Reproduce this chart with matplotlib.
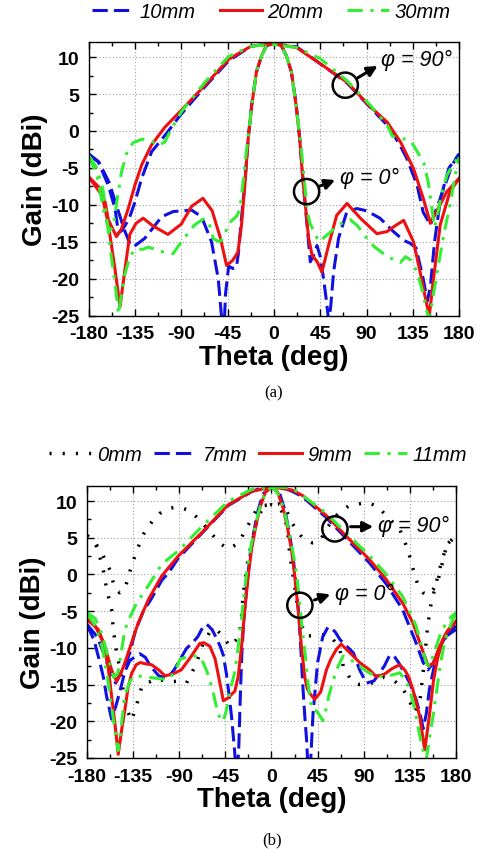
import matplotlib
matplotlib.use("Agg")
import matplotlib.pyplot as plt
from matplotlib.ticker import MultipleLocator, FixedLocator
from matplotlib.lines import Line2D

plt.rcParams['font.family'] = ['Liberation Sans', 'DejaVu Sans']
plt.rcParams['axes.unicode_minus'] = False

# ---------------- (a) data ----------------
a_series = ["10mm", "20mm", "30mm"]

# 10mm, phi = 90
a10_p90_t = [-180, -170.6, -161, -154.4, -151, -148, -141, -135, -128.5, -118.8, -105.9, -90, -67, -44, -22, 0, 22, 45, 71, 93.5, 110, 122, 129, 139, 145, 152, 158, 165, 173, 180]
a10_p90_g = [-3.1, -4.2, -7.3, -10.5, -13.8, -13.5, -12.0, -9.6, -6.4, -2.8, -0.6, 2.3, 6.0, 9.5, 11.5, 11.8, 11.4, 9.1, 6.5, 3.2, 0.8, -1.8, -3.7, -7.3, -11.0, -12.7, -10.5, -7.8, -4.6, -3.1]
# 10mm, phi = 0
a10_p0_t = [-180, -170, -160, -152, -145, -140, -136.6, -125.3, -109, -97.8, -80, -70.3, -60.6, -54.1, -51, -49.5, -47, -44, -40, -36.5, -34.5, -31.5, -28.2, -25, -21.7, -16.9, -12, -7.1, 0, 7.1, 12, 16.9, 21.7, 25, 28.2, 30.4, 33, 35.3, 38, 41.8, 45, 48.2, 51, 53, 55, 58, 62.8, 70.9, 80.6, 90, 103, 116, 126, 132.4, 138, 145, 149, 152, 156, 162, 170, 180]
a10_p0_g = [-3.1, -4.2, -7.0, -10.5, -13.5, -15.2, -15.7, -14.5, -11.6, -10.9, -10.7, -11.6, -15.0, -20.0, -25.0, -30.0, -22.0, -18.3, -18.6, -18.5, -16.5, -11.8, -6.9, -1.0, 3.5, 8.0, 10.2, 11.6, 11.8, 11.6, 10.2, 8.0, 3.5, -1.0, -6.5, -10.0, -14.0, -17.7, -17.0, -15.5, -17.0, -20.0, -23.0, -25.5, -24.0, -19.0, -14.5, -10.9, -10.5, -10.8, -11.8, -13.6, -14.8, -15.2, -15.8, -20.0, -23.0, -21.0, -15.0, -9.0, -5.0, -3.1]

# 20mm, phi = 90
a20_p90_t = [-180, -170, -164, -160.9, -153, -148, -141.5, -135, -128.5, -119, -106, -90, -67, -44, -22, 0, 22, 45, 71, 93.5, 110, 123, 135.6, 145, 152, 158, 168, 180]
a20_p90_g = [-6.2, -7.6, -9.6, -12.0, -14.3, -13.2, -10.5, -7.3, -4.6, -1.9, 0.5, 2.8, 6.2, 9.7, 11.5, 11.8, 11.3, 9.1, 6.6, 3.3, 1.2, -1.5, -5.1, -9.1, -12.5, -10.9, -8.2, -6.4]
# 20mm, phi = 0
a20_p0_t = [-180, -167, -161, -154.5, -149.5, -145, -140, -134, -127, -118, -103, -90, -80, -69, -60, -52, -46, -40, -35, -31.5, -28, -25, -21.5, -17, -12, -7, 0, 7, 12, 17, 21.5, 25, 28, 30.5, 33.7, 37, 42, 46.6, 53, 61, 71, 84, 100, 110, 118, 126, 135.6, 142, 148.6, 151, 155, 161.5, 171, 180]
a20_p0_g = [-6.2, -8.7, -12.5, -18.6, -23.8, -19.0, -14.0, -12.5, -11.8, -12.8, -14.0, -12.6, -10.2, -9.1, -10.8, -14.5, -18.2, -17.5, -16.4, -12.7, -6.9, -1.0, 3.5, 8.0, 10.2, 11.6, 11.8, 11.6, 10.2, 8.0, 3.5, -1.0, -6.5, -10.0, -14.5, -16.8, -17.7, -19.1, -15.5, -11.4, -9.8, -11.8, -13.9, -13.6, -12.8, -12.1, -15.0, -19.1, -23.6, -24.9, -20.0, -12.7, -8.2, -6.4]

# 30mm, phi = 90
a30_p90_t = [-180, -172, -165, -160, -156, -152, -148, -143, -137, -128, -120, -112, -106, -100, -90, -67, -44, -22, 0, 22, 45, 71, 93.5, 110, 115, 122, 128, 133, 138, 145.5, 150, 153, 156, 158, 162, 168, 175, 180]
a30_p90_g = [-3.3, -6.0, -11.0, -13.5, -13.0, -9.0, -5.5, -3.0, -1.6, -1.1, -1.3, -1.9, -1.5, 0.2, 2.6, 6.6, 10.1, 11.5, 11.7, 11.3, 9.8, 6.8, 3.5, 0.8, -0.7, -1.0, -1.1, -1.4, -2.5, -4.3, -7.0, -10.0, -13.0, -12.0, -9.0, -6.0, -4.3, -3.5]
# 30mm, phi = 0
a30_p0_t = [-180, -172, -166, -162, -158, -154, -151, -148, -145, -140, -135, -127, -122, -110, -98, -90, -77, -68.5, -63, -58.7, -53, -49, -44, -40, -36, -33, -30, -27, -24, -21.5, -17, -12, -7, 0, 7, 12, 17, 21.5, 24, 27, 30.4, 32, 35, 38.5, 42, 45, 48, 54.7, 60, 68, 74, 81, 90, 97, 110, 122.7, 128, 133, 137, 141, 145, 148.6, 151, 155, 160, 165, 171, 176, 180]
a30_p0_g = [-3.3, -5.0, -8.0, -12.3, -17.0, -21.0, -24.8, -22.0, -19.5, -17.0, -16.0, -16.0, -15.7, -16.3, -16.6, -15.0, -12.7, -11.9, -12.5, -14.6, -15.0, -14.5, -12.5, -12.0, -11.5, -10.5, -7.0, -3.0, 0.5, 3.5, 8.0, 10.2, 11.5, 11.7, 11.5, 10.2, 8.0, 3.5, 0.5, -3.0, -8.0, -10.5, -12.5, -13.5, -14.5, -15.0, -14.5, -13.7, -13.0, -12.3, -12.0, -12.8, -14.5, -15.6, -17.0, -17.8, -17.0, -17.5, -18.5, -20.0, -22.0, -24.5, -25.5, -22.0, -18.0, -14.0, -10.0, -6.0, -3.5]

# ---------------- (b) data ----------------
b_series = ["0mm", "7mm", "9mm", "11mm"]

# 0mm, phi = 90
b0_p90_t = [-180, -172, -165.7, -157.6, -152.7, -148, -143, -138, -131.6, -124, -116, -109, -100, -91, -82, -73, -65, -57, -50, -42.6, -35, -29, -24.7, -15, -7, 0, 8, 15, 20, 30, 40, 47, 55, 65, 76, 94, 104, 112, 125, 133, 138, 143, 148, 153, 158, 163, 167, 171, 180]
b0_p90_g = [5.3, 4.3, 3.0, 0.6, -2.0, -2.5, -2.0, 0.5, 3.2, 5.7, 7.3, 8.3, 9.0, 9.2, 8.8, 7.8, 6.6, 5.3, 4.2, 3.5, 4.0, 5.1, 6.2, 8.7, 9.4, 9.5, 9.6, 8.6, 7.0, 5.0, 4.3, 4.5, 6.5, 8.3, 9.4, 9.8, 9.2, 8.0, 6.2, 3.4, 0.8, -1.5, -2.5, -2.8, -2.0, -0.5, 1.7, 4.0, 5.3]
# 0mm, phi = 0
b0_p0_t = [-180, -172, -169, -164, -160.8, -156, -154.3, -152, -147, -143, -136.5, -130.6, -126, -120, -110, -102, -90, -83, -78, -73, -67, -60, -53.6, -47, -40.6, -35, -31, -29.2, -27.6, -22.7, -17.9, -13, -7, 0, 7, 13, 16, 18, 21, 24, 28, 34, 44, 53.6, 60, 66.7, 70, 78, 86, 95, 109, 120, 128, 133, 140, 145, 149, 152, 155, 160, 167, 172, 180]
b0_p0_g = [5.3, 4.2, 3.2, 0.5, -2.0, -4.8, -7.4, -9.9, -13.5, -17.7, -19.9, -17.3, -15.0, -14.7, -14.2, -14.7, -14.5, -14.8, -13.5, -12.0, -9.5, -7.8, -7.5, -8.5, -9.8, -9.0, -8.0, -5.7, -2.7, 2.3, 5.0, 8.0, 9.2, 9.5, 9.2, 8.0, 5.5, 2.5, 0.0, -3.0, -6.5, -8.4, -8.3, -8.2, -8.8, -10.2, -12.5, -14.5, -15.0, -15.0, -14.0, -14.5, -15.5, -16.8, -18.8, -17.0, -12.0, -7.5, -4.5, -1.5, 2.3, 4.2, 5.3]

# 7mm, phi = 90
b7_p90_t = [-180, -170, -163, -157, -152, -148, -143, -138, -133, -125, -118, -107, -100, -91, -68, -42, -19, -8, 0, 8, 19, 30, 53, 73, 96, 112, 128, 141, 148, 152.7, 158, 164, 170, 180]
b7_p90_g = [-6.8, -8.5, -11.0, -13.5, -14.8, -13.6, -12.5, -10.6, -7.8, -5.0, -3.5, -0.8, 0.3, 2.2, 5.6, 9.4, 11.3, 11.9, 11.9, 11.9, 11.4, 10.6, 7.8, 4.9, 1.5, -1.3, -4.8, -9.3, -12.0, -13.0, -12.0, -10.0, -8.4, -7.0]
# 7mm, phi = 0
b7_p0_t = [-180, -173, -167.4, -164, -161, -156, -152, -148, -143, -138, -133, -128.4, -123, -118, -110, -102, -95, -88, -83, -77, -72, -67, -63, -58, -54, -50, -47, -44, -42, -39, -36, -34, -32, -30.5, -29, -27, -24, -21, -17, -13, -8, 0, 8, 13, 17, 21, 24, 27, 29, 30.5, 32.5, 34.5, 36, 38, 40.5, 45, 50, 55, 58, 62, 67, 75, 80, 86, 92.6, 100, 105, 110, 115, 119, 124, 130, 135, 141, 145, 148, 151, 154, 161, 170.6, 180]
b7_p0_g = [-6.8, -9.0, -12.0, -14.0, -16.5, -19.7, -18.0, -16.0, -13.2, -11.7, -11.2, -10.8, -11.3, -12.5, -13.8, -14.2, -13.0, -11.3, -10.1, -9.3, -8.5, -7.2, -6.8, -7.5, -8.6, -9.8, -11.0, -13.5, -15.7, -19.3, -24.0, -28.0, -24.0, -17.0, -11.0, -6.0, -1.5, 2.5, 6.0, 8.8, 11.0, 11.9, 11.0, 8.8, 6.0, 2.5, -1.5, -6.0, -11.0, -15.0, -19.3, -23.0, -28.0, -26.0, -19.0, -12.0, -8.5, -7.2, -7.3, -7.8, -8.9, -10.0, -10.7, -13.0, -14.8, -14.5, -13.5, -12.5, -11.1, -11.0, -12.0, -13.5, -14.8, -17.0, -19.0, -21.0, -19.0, -15.7, -11.0, -8.4, -7.5]

# 9mm, phi = 90
b9_p90_t = [-180, -169, -162.5, -156, -151, -147, -143, -136.5, -130, -120, -107, -91, -68, -42, -19.5, 0, 20, 30.9, 53.6, 73, 95.8, 112, 128, 138, 146, 152.7, 157.6, 164, 170.6, 180]
b9_p90_g = [-6.1, -7.5, -9.8, -13.0, -14.6, -13.5, -12.0, -9.3, -6.6, -3.4, -0.2, 2.5, 5.7, 9.5, 11.3, 11.9, 11.5, 10.7, 8.0, 5.2, 2.0, -0.7, -3.9, -6.6, -9.8, -12.4, -12.2, -9.8, -8.0, -6.4]
# 9mm, phi = 0
b9_p0_t = [-180, -172, -164, -159, -156, -153, -149.5, -146, -143, -140, -136.5, -132, -128, -122, -117, -110, -104, -97, -88, -78, -70, -66, -60, -55, -50, -47, -42, -38, -35.7, -32.5, -29.2, -26, -22.7, -19.5, -15, -11, -6, 0, 6, 11, 15, 19.5, 22.7, 26, 29.2, 32.5, 35, 38, 42.2, 48, 53.6, 58, 63.4, 68, 79.6, 86, 95.8, 102, 110, 118, 125, 130, 134, 138, 144.6, 149.5, 154, 158, 162, 167, 172, 180]
b9_p0_g = [-6.1, -7.0, -9.3, -13.0, -16.6, -20.0, -24.5, -21.0, -18.4, -15.5, -13.5, -12.3, -12.0, -12.2, -12.3, -13.0, -13.8, -13.6, -13.0, -11.1, -9.4, -9.3, -9.8, -11.5, -15.0, -17.2, -16.8, -16.2, -15.9, -13.9, -9.8, -4.8, -0.2, 3.4, 6.8, 9.2, 11.2, 11.9, 11.2, 9.2, 6.8, 3.4, -0.2, -4.8, -9.8, -14.0, -15.6, -16.3, -17.0, -16.0, -13.0, -11.5, -10.2, -9.5, -11.1, -12.0, -13.0, -13.9, -13.6, -12.8, -12.3, -13.0, -14.0, -15.7, -19.3, -23.9, -19.3, -14.5, -11.5, -8.9, -7.6, -6.4]

# 11mm, phi = 90
b11_p90_t = [-180, -172, -165, -159, -154, -150, -147, -143, -138, -133, -125, -120, -107, -91, -68, -42, -19, 0, 20, 53, 73, 96, 112, 128, 141, 151, 154, 158, 165, 172, 180]
b11_p90_g = [-5.2, -6.0, -8.3, -11.5, -14.0, -13.5, -11.0, -7.5, -5.8, -4.3, -2.5, -1.5, 1.4, 3.2, 6.5, 10.0, 11.6, 11.9, 11.8, 8.4, 5.6, 2.5, 0.0, -3.0, -7.0, -12.0, -12.5, -11.0, -8.0, -6.2, -5.2]
# 11mm, phi = 0
b11_p0_t = [-180, -172, -165, -160, -156, -152, -149.6, -146, -143, -138, -133, -125, -115, -102, -95, -89, -80, -73, -68, -63, -57, -53, -50, -47, -44, -40, -36, -33, -30, -27, -24, -20, -15, -10, -5, 0, 5, 10, 15, 20, 24, 27, 30, 33, 35, 37.5, 40, 44, 47, 50, 53, 56, 60, 65, 70, 76, 86, 94, 102, 112, 120, 125, 130, 134.8, 138, 141, 144, 147.8, 151, 154, 157.6, 161, 164, 167, 170.6, 175, 180]
b11_p0_g = [-5.2, -7.0, -10.0, -14.0, -18.0, -22.0, -24.0, -20.0, -16.5, -14.5, -13.8, -13.9, -14.1, -14.3, -13.5, -11.5, -11.2, -11.1, -11.6, -13.2, -16.0, -18.5, -19.7, -20.0, -18.5, -15.6, -13.4, -10.5, -7.0, -3.0, 0.5, 3.8, 7.2, 9.8, 11.3, 11.9, 11.3, 9.8, 7.2, 3.8, 0.5, -3.0, -7.5, -11.0, -14.0, -17.0, -18.5, -18.6, -19.2, -19.9, -18.5, -16.5, -14.5, -12.5, -11.1, -11.5, -12.5, -13.3, -13.9, -13.9, -13.6, -13.4, -14.2, -15.7, -17.3, -19.3, -21.5, -23.9, -25.2, -22.5, -19.3, -16.0, -13.0, -10.5, -8.4, -6.8, -5.2]

x_ticks = [-180, -135, -90, -45, 0, 45, 90, 135, 180]
y_ticks = [-25, -20, -15, -10, -5, 0, 5, 10]

# ---------------- styles ----------------
BLUE = '#1010e0'
RED = '#ee1010'
GREEN = '#33ee33'
LW = 2.2
sty_blue = dict(color=BLUE, lw=LW, dashes=(5, 2))
sty_red = dict(color=RED, lw=LW, linestyle='-')
sty_green = dict(color=GREEN, lw=LW, dashes=(5, 2.5, 1, 2.5))
sty_black = dict(color='black', lw=2.5, dashes=(0.6, 3.2))

fig = plt.figure(figsize=(4.87, 8.53), dpi=100)
axA = fig.add_axes([0.182, 0.6287, 0.761, 0.3205])
axB = fig.add_axes([0.1786, 0.1102, 0.7577, 0.3185])


def style_axes(ax):
    ax.set_xlim(-180, 180)
    ax.set_ylim(-25, 12)
    ax.xaxis.set_major_locator(FixedLocator(x_ticks))
    ax.yaxis.set_major_locator(FixedLocator(y_ticks))
    ax.xaxis.set_minor_locator(MultipleLocator(22.5))
    ax.yaxis.set_minor_locator(MultipleLocator(2.5))
    ax.tick_params(which='both', direction='in', top=True, right=False, width=1.0)
    ax.tick_params(which='major', length=5, labelsize=14, pad=7)
    ax.tick_params(which='minor', length=3)
    for lab in ax.get_xticklabels() + ax.get_yticklabels():
        lab.set_fontweight('bold')
    ax.grid(True, which='major', linestyle=(0, (1, 2)), color='#a0a0a0', lw=0.8)
    ax.set_axisbelow(True)
    for s in ax.spines.values():
        s.set_linewidth(1.0)
    ax.set_xlabel('Theta (deg)', fontsize=20, fontweight='bold', labelpad=1)
    ax.set_ylabel('Gain (dBi)', fontsize=20, fontweight='bold', labelpad=2)


# ---- (a) ----
axA.plot(a10_p90_t, a10_p90_g, **sty_blue)
axA.plot(a10_p0_t, a10_p0_g, **sty_blue)
axA.plot(a20_p90_t, a20_p90_g, **sty_red)
axA.plot(a20_p0_t, a20_p0_g, **sty_red)
axA.plot(a30_p90_t, a30_p90_g, **sty_green)
axA.plot(a30_p0_t, a30_p0_g, **sty_green)
style_axes(axA)

# ---- (b) ----
axB.plot(b0_p90_t, b0_p90_g, **sty_black)
axB.plot(b0_p0_t, b0_p0_g, **sty_black)
axB.plot(b7_p90_t, b7_p90_g, **sty_blue)
axB.plot(b7_p0_t, b7_p0_g, **sty_blue)
axB.plot(b9_p90_t, b9_p90_g, **sty_red)
axB.plot(b9_p0_t, b9_p0_g, **sty_red)
axB.plot(b11_p90_t, b11_p90_g, **sty_green)
axB.plot(b11_p0_t, b11_p0_g, **sty_green)
style_axes(axB)


def annotate(ax, circ, start, tip, text_xy, text):
    ax.scatter([circ[0]], [circ[1]], s=330, facecolors='none', edgecolors='black', linewidths=1.8, zorder=5)
    ax.annotate('', xy=tip, xytext=start,
                arrowprops=dict(arrowstyle='-|>', lw=2.2, color='black', mutation_scale=15), zorder=5)
    ax.text(text_xy[0], text_xy[1], text, fontsize=15.5, fontstyle='italic', va='center', ha='left', zorder=5)


annotate(axA, (69.3, 6.2), (79, 7.0), (103, 9.0), (104, 9.7), 'φ = 90°')
annotate(axA, (31.7, -8.2), (42, -7.6), (62, -6.5), (64, -6.3), 'φ = 0°')
annotate(axB, (61.9, 6.2), (74.5, 6.5), (102, 6.5), (104, 6.7), 'φ = 90°')
annotate(axB, (27.7, -4.2), (39.4, -3.6), (60, -2.6), (62, -2.6), 'φ = 0°')

# legends
hA = [Line2D([], [], **sty_blue), Line2D([], [], **sty_red), Line2D([], [], **sty_green)]
legA = fig.legend(hA, a_series, loc='center', bbox_to_anchor=(0.557, 1 - 13 / 853), ncol=3, frameon=False,
                  prop=dict(size=14.5, style='italic'), handlelength=2.1, handletextpad=0.25, columnspacing=1.2)
hB = [Line2D([], [], **sty_black), Line2D([], [], **sty_blue), Line2D([], [], **sty_red), Line2D([], [], **sty_green)]
legB = fig.legend(hB, b_series, loc='center', bbox_to_anchor=(0.53, 1 - 456 / 853), ncol=4, frameon=False,
                  prop=dict(size=14.5, style='italic'), handlelength=2.1, handletextpad=0.3, columnspacing=0.6)

fig.text(0.561, 1 - 393 / 853, '(a)', fontsize=12, family=['Liberation Serif'], ha='center', va='center')
fig.text(0.559, 1 - 840 / 853, '(b)', fontsize=12, family=['Liberation Serif'], ha='center', va='center')

fig.savefig('out.png', dpi=100)
